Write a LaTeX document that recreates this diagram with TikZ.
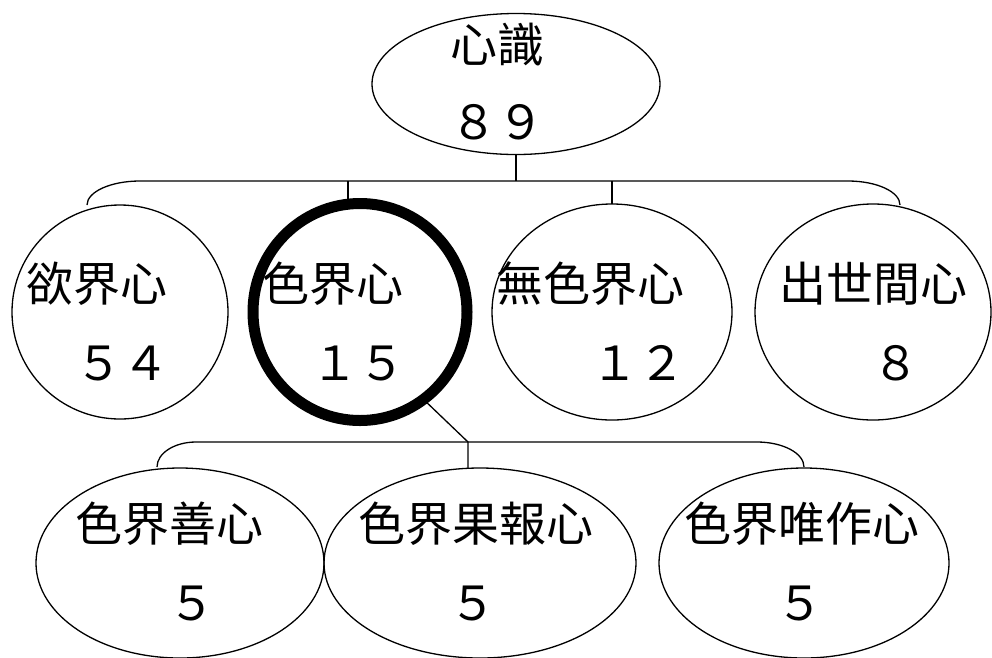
\documentclass[tikz,border=0pt]{standalone}
\usepackage{fontspec}
\newfontfamily\cjk{Noto Sans CJK TC}
\usetikzlibrary{shapes.geometric, positioning}

\begin{document}
\begin{tikzpicture}[x=1pt, y=-1pt,
oval/.style={ellipse, draw, line width=1.3pt, inner sep=0pt, outer sep=0pt},
pick/.style={oval, line width=11pt},
word/.style={font=\cjk\fontsize{47}{50}\selectfont, inner sep=0pt},
branch/.style={line width=1.3pt}
]
\useasboundingbox (0,0) rectangle (992,657);

% top
\node[oval, minimum width=288pt, minimum height=141pt] (xinshi) at (516,84) {};
\node[word] (xinshi-t) at (497,45) {心識};
\node[word] (xinshi-n) at (497,122) {８９};

% second row
\node[oval, minimum width=216pt, minimum height=214pt] (yujie) at (120,312) {};
\node[pick, minimum width=214pt, minimum height=217pt] (sejie) at (360,312) {};
\node[oval, minimum width=240pt, minimum height=216pt] (wuse) at (612,312) {};
\node[oval, minimum width=236pt, minimum height=216pt] (chushi) at (873,312) {};
\node[word] (yujie-t) at (97,284) {欲界心};
\node[word] (yujie-n) at (122,363) {５４};
\node[word] (sejie-t) at (333,284) {色界心};
\node[word] (sejie-n) at (358,363) {１５};
\node[word] (wuse-t) at (590,284) {無色界心};
\node[word] (wuse-n) at (638,363) {１２};
\node[word] (chushi-t) at (873,284) {出世間心};
\node[word] (chushi-n) at (896,363) {８};

% third row
\node[oval, minimum width=288pt, minimum height=190pt] (shan) at (180,563) {};
\node[oval, minimum width=312pt, minimum height=190pt] (guobao) at (480,563) {};
\node[oval, minimum width=290pt, minimum height=190pt] (weizuo) at (804,563) {};
\node[word] (shan-t) at (169,524) {色界善心};
\node[word] (shan-n) at (192,603) {５};
\node[word] (guobao-t) at (476,524) {色界果報心};
\node[word] (guobao-n) at (473,603) {５};
\node[word] (weizuo-t) at (802,524) {色界唯作心};
\node[word] (weizuo-n) at (800,603) {５};

% branches from the top
\coordinate (top-j) at (516,181);
\coordinate (top-l) at (87,205);
\coordinate (top-t) at (348,181);
\draw[branch] (xinshi.south) -- (top-j);
\draw[branch] (top-l) arc[start angle=180, end angle=90, x radius=53pt, y radius=24pt]
  -- (848,181) arc[start angle=90, end angle=0, x radius=52pt, y radius=24pt];
\draw[branch] (top-t) -- (top-t |- sejie.north);
\draw[branch] (wuse.north |- top-j) -- (wuse.north);

% branches from 色界心
\coordinate (mid-j) at (468,442);
\coordinate (mid-l) at (157,467);
\draw[branch] (sejie.-54) -- (mid-j) -- (mid-j |- guobao.north);
\draw[branch] (mid-l) arc[start angle=180, end angle=90, x radius=39pt, y radius=25pt]
  -- (757,442) arc[start angle=90, end angle=0, x radius=47pt, y radius=25pt];
\end{tikzpicture}
\end{document}
